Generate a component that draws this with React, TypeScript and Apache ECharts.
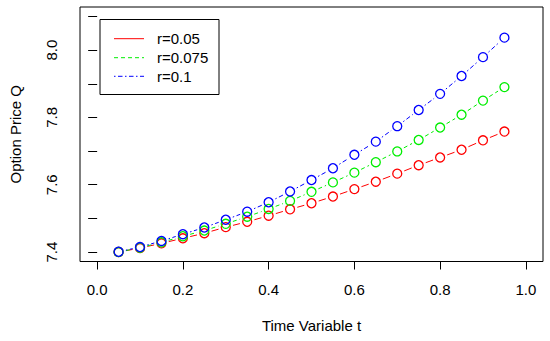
import React, { useEffect, useRef } from "react";
import * as echarts from "echarts";

const tValues = [0.05, 0.1, 0.15, 0.2, 0.25, 0.3, 0.35, 0.4, 0.45, 0.5, 0.55, 0.6, 0.65, 0.7, 0.75, 0.8, 0.85, 0.9, 0.95];
const seriesNames = ["r=0.05", "r=0.075", "r=0.1"];
const priceR005 = [7.400, 7.412, 7.426, 7.441, 7.456, 7.474, 7.490, 7.508, 7.527, 7.545, 7.565, 7.587, 7.609, 7.633, 7.658, 7.681, 7.704, 7.732, 7.758];
const priceR0075 = [7.400, 7.413, 7.429, 7.447, 7.464, 7.484, 7.505, 7.528, 7.552, 7.579, 7.607, 7.636, 7.667, 7.699, 7.733, 7.770, 7.808, 7.850, 7.890];
const priceR01 = [7.401, 7.415, 7.433, 7.453, 7.473, 7.496, 7.520, 7.548, 7.580, 7.614, 7.649, 7.689, 7.728, 7.774, 7.822, 7.870, 7.923, 7.979, 8.037];
const xTicks = [0, 0.2, 0.4, 0.6, 0.8, 1.0];
const yTicks = [7.4, 7.5, 7.6, 7.7, 7.8, 7.9, 8.0, 8.1];
const yTickLabels = [7.4, 7.6, 7.8, 8.0];
const xAxisTitle = "Time Variable t";
const yAxisTitle = "Option Price Q";

const colors = ["#ff0000", "#00ee00", "#0000ff"];
const plotDash: (number[] | null)[] = [null, [4, 3], [1.5, 2.5, 4.5, 2.5]];
const legendDash: (number[] | null)[] = [null, [4, 3], [1.5, 2.5, 4.5, 2.5]];
const FONT = "'Liberation Sans', Arial, Helvetica, sans-serif";

export default function App() {
  const ref = useRef<HTMLDivElement>(null);
  useEffect(() => {
    document.body.style.margin = "0";
    if (!ref.current) return;
    const chart = echarts.init(ref.current, undefined, { renderer: "svg" });
    const allSeries = [priceR005, priceR0075, priceR01];

    const segSeries = allSeries.map((vals, si) => {
      const data: number[][] = [];
      for (let i = 1; i < vals.length; i++) {
        data.push([tValues[i], vals[i], tValues[i - 1], vals[i - 1]]);
      }
      return {
        type: "custom",
        name: seriesNames[si],
        data,
        silent: true,
        z: 2,
        renderItem: (params: any, api: any) => {
          const a = api.coord([api.value(2), api.value(3)]);
          const b = api.coord([api.value(0), api.value(1)]);
          const dx = b[0] - a[0];
          const dy = b[1] - a[1];
          const len = Math.sqrt(dx * dx + dy * dy);
          const gap = 7.5;
          if (len <= 2 * gap) return null;
          const ux = dx / len;
          const uy = dy / len;
          return {
            type: "line",
            shape: {
              x1: a[0] + ux * gap,
              y1: a[1] + uy * gap,
              x2: b[0] - ux * gap,
              y2: b[1] - uy * gap,
            },
            style: {
              stroke: colors[si],
              lineWidth: 1,
              lineDash: plotDash[si] || undefined,
              fill: null,
            },
          };
        },
      };
    });

    const ptSeries = allSeries.map((vals, si) => ({
      type: "scatter",
      name: seriesNames[si],
      data: vals.map((v, i) => [tValues[i], v]),
      symbol: "circle",
      symbolSize: 9,
      silent: true,
      z: 3,
      itemStyle: {
        color: "rgba(0,0,0,0)",
        borderColor: colors[si],
        borderWidth: 1.3,
        opacity: 1,
      },
    }));

    const legendX = 100;
    const legendY = 19.5;
    const legendRows = [38.7, 57.7, 76.3];
    const graphic: any[] = [
      {
        type: "rect",
        shape: { x: legendX, y: legendY, width: 119, height: 75 },
        style: { fill: "#fff", stroke: "#000", lineWidth: 1 },
        z: 10,
      },
    ];
    seriesNames.forEach((name, i) => {
      graphic.push({
        type: "line",
        shape: { x1: 114, y1: legendRows[i], x2: 144, y2: legendRows[i] },
        style: { stroke: colors[i], lineWidth: 1, lineDash: legendDash[i] || undefined },
        z: 11,
      });
      graphic.push({
        type: "text",
        x: 157,
        y: legendRows[i],
        style: {
          text: name,
          fill: "#000",
          font: `15px ${FONT}`,
          verticalAlign: "middle",
          align: "left",
        },
        z: 11,
      });
    });

    chart.setOption({
      animation: false,
      backgroundColor: "#fff",
      textStyle: { fontFamily: FONT },
      grid: {
        left: 77,
        right: 7,
        top: 7,
        bottom: 79.5,
        show: true,
        borderColor: "#000",
        borderWidth: 1,
        backgroundColor: "transparent",
        containLabel: false,
      },
      xAxis: {
        type: "value",
        min: -0.04,
        max: 1.04,
        splitLine: { show: false },
        axisLine: { show: false },
        axisTick: {
          show: true,
          length: 8,
          lineStyle: { color: "#000", width: 1 },
          customValues: xTicks,
        },
        axisLabel: {
          color: "#000",
          fontSize: 15,
          fontFamily: FONT,
          margin: 20,
          customValues: xTicks,
          formatter: (v: number) => v.toFixed(1),
        },
        name: xAxisTitle,
        nameLocation: "middle",
        nameGap: 56,
        nameTextStyle: { color: "#000", fontSize: 15, fontFamily: FONT },
      },
      yAxis: {
        type: "value",
        min: 7.372,
        max: 8.128,
        splitLine: { show: false },
        axisLine: { show: false },
        axisTick: {
          show: true,
          length: 9,
          lineStyle: { color: "#000", width: 1 },
          customValues: yTicks,
        },
        axisLabel: {
          color: "#000",
          fontSize: 15,
          fontFamily: FONT,
          margin: 21,
          rotate: 90,
          customValues: yTickLabels,
          formatter: (v: number) => v.toFixed(1),
        },
        name: yAxisTitle,
        nameLocation: "middle",
        nameRotate: 90,
        nameGap: 57,
        nameTextStyle: { color: "#000", fontSize: 15, fontFamily: FONT },
      },
      graphic,
      series: [...segSeries, ...ptSeries],
    } as any);
    return () => chart.dispose();
  }, []);
  return <div ref={ref} style={{ width: 550, height: 341, position: "absolute", left: 0, top: 0 }} />;
}
